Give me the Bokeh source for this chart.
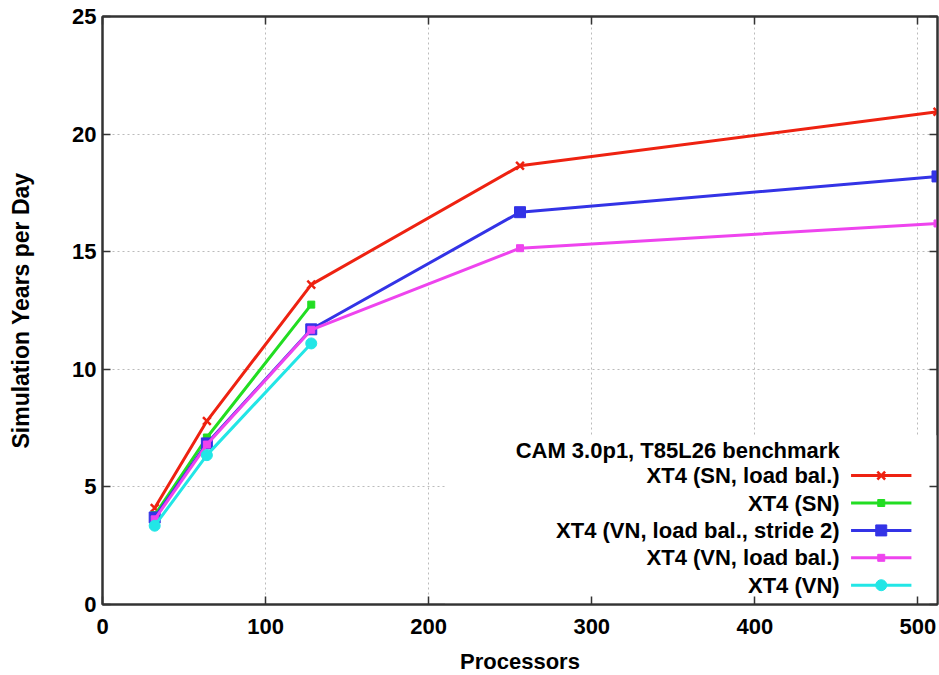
from bokeh.plotting import figure
from bokeh.models import LinearAxis, FixedTicker, Range1d
from bokeh.core.properties import value
from bokeh.embed import file_html
from bokeh.resources import INLINE

# CAM 3.0p1 T85L26 benchmark throughput on the XT4
procs_full = [32, 64, 128, 256, 512]
procs_short = [32, 64, 128]

sn_load_bal = [4.1, 7.8, 13.6, 18.65, 20.95]
sn_plain = [3.8, 7.1, 12.75]
vn_load_bal_stride2 = [3.7, 6.85, 11.7, 16.68, 18.2]
vn_load_bal = [3.62, 6.8, 11.68, 15.15, 16.2]
vn_plain = [3.35, 6.35, 11.1]

series_names = [
    "XT4 (SN, load bal.)",
    "XT4 (SN)",
    "XT4 (VN, load bal., stride 2)",
    "XT4 (VN, load bal.)",
    "XT4 (VN)",
]
legend_title = "CAM 3.0p1, T85L26 benchmark"

x_ticks = [0, 100, 200, 300, 400, 500]
y_ticks = [0, 5, 10, 15, 20, 25]

FONT = "Liberation Sans"
FS = "22px"

p = figure(
    frame_width=835, frame_height=588,
    x_range=Range1d(0, 512), y_range=Range1d(0, 25),
    output_backend="svg", toolbar_location=None,
    min_border_left=102, min_border_right=2,
    min_border_top=16, min_border_bottom=71,
    background_fill_color="white", border_fill_color="white",
)
p.outline_line_color = "#333333"
p.outline_line_width = 2

p.xaxis.ticker = FixedTicker(ticks=x_ticks)
p.yaxis.ticker = FixedTicker(ticks=y_ticks)
p.xaxis.axis_label = "Processors"
p.yaxis.axis_label = "Simulation Years per Day"

for ax in (p.xaxis[0], p.yaxis[0]):
    ax.major_tick_in = 8
    ax.major_tick_out = 0
    ax.minor_tick_line_color = None
    ax.axis_line_color = "#333333"
    ax.axis_line_width = 2
    ax.major_tick_line_color = "#333333"
    ax.major_tick_line_width = 1.5
    ax.major_label_text_font = FONT
    ax.major_label_text_font_style = "bold"
    ax.major_label_text_font_size = FS
    ax.major_label_text_color = "black"
    ax.axis_label_text_font = FONT
    ax.axis_label_text_font_style = "bold"
    ax.axis_label_text_font_size = FS
    ax.axis_label_text_color = "black"

p.yaxis.axis_label_text_font_size = "23px"
p.xaxis.major_label_standoff = 14
p.xaxis.axis_label_standoff = 12
p.yaxis.major_label_standoff = 6
p.yaxis.axis_label_standoff = 35

# mirrored inward ticks on the top and right edges, without labels
for side, tick_list in (("right", y_ticks), ("above", x_ticks)):
    mirror = LinearAxis(
        ticker=FixedTicker(ticks=tick_list),
        major_label_overrides={t: "" for t in tick_list},
        major_label_standoff=0,
        major_tick_in=8, major_tick_out=0,
        minor_tick_line_color=None,
        axis_line_color="#333333", axis_line_width=2,
        major_tick_line_color="#333333", major_tick_line_width=1.5,
    )
    p.add_layout(mirror, side)

for g in (p.xgrid[0], p.ygrid[0]):
    g.grid_line_color = "#bbbbbb"
    g.grid_line_dash = "2 3"
    g.grid_line_width = 1
p.xgrid.ticker = FixedTicker(ticks=x_ticks)
p.ygrid.ticker = FixedTicker(ticks=y_ticks)

# opaque key background
p.quad(left=[210], right=[512], bottom=[0.05], top=[7.2],
       fill_color="white", line_color=None)

styles = [
    ("#ee2211", "x", 11, procs_full, sn_load_bal),
    ("#22dd22", "square", 7, procs_short, sn_plain),
    ("#3333e6", "square", 11, procs_full, vn_load_bal_stride2),
    ("#ee44ee", "square", 7, procs_full, vn_load_bal),
    ("#22e6e6", "circle", 11, procs_short, vn_plain),
]

LW = 3
for color, marker, size, xs, ys in styles:
    p.line(xs, ys, line_color=color, line_width=LW)
    if marker == "x":
        p.scatter(xs, ys, marker="x", size=size, line_color=color, line_width=2.5)
    else:
        p.scatter(xs, ys, marker=marker, size=size, fill_color=color, line_color=color)

# key: right-aligned labels with line samples to their right
text_x = 452
line_x0, line_x1, mark_x = 459, 496, 477.5
top_y, step = 5.48, 1.165
title_y = 6.55

p.text(x=[text_x], y=[title_y], text=[legend_title], text_align="right",
       text_baseline="middle", text_font=value(FONT), text_font_style="bold",
       text_font_size=value(FS), text_color="black")

for i, (name, (color, marker, size, _, _)) in enumerate(zip(series_names, styles)):
    yk = top_y - i * step
    p.text(x=[text_x], y=[yk], text=[name], text_align="right",
           text_baseline="middle", text_font=value(FONT), text_font_style="bold",
           text_font_size=value(FS), text_color="black")
    p.line([line_x0, line_x1], [yk, yk], line_color=color, line_width=LW)
    if marker == "x":
        p.scatter([mark_x], [yk], marker="x", size=size, line_color=color, line_width=2.5)
    else:
        p.scatter([mark_x], [yk], marker=marker, size=size, fill_color=color, line_color=color)

open("out.html", "w").write(file_html(p, INLINE))
